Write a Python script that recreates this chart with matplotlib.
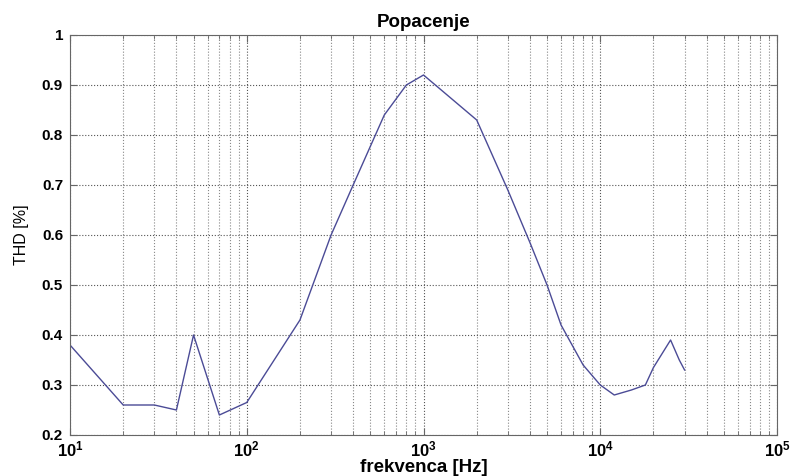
import numpy as np
import matplotlib
matplotlib.use("Agg")
import matplotlib.pyplot as plt
from matplotlib import ticker

# frequency points [Hz] and measured THD [%]
freq = [10, 20, 30, 40, 50, 70, 100, 200, 300, 400, 600, 800, 1000,
        2000, 3000, 4000, 5000, 6000, 8000, 10000, 12000, 15000, 18000,
        20000, 25000, 28000, 30000]
thd = [0.38, 0.26, 0.26, 0.25, 0.40, 0.24, 0.265, 0.43, 0.60, 0.70, 0.84, 0.90, 0.92,
       0.83, 0.69, 0.585, 0.50, 0.42, 0.34, 0.30, 0.28, 0.29, 0.30,
       0.335, 0.39, 0.35, 0.33]

yticks = [0.2, 0.3, 0.4, 0.5, 0.6, 0.7, 0.8, 0.9, 1]
ytick_labels = ['0.2', '0.3', '0.4', '0.5', '0.6', '0.7', '0.8', '0.9', '1']

plt.rcParams['font.family'] = ['Liberation Sans', 'DejaVu Sans']

fig = plt.figure(figsize=(7.93, 4.76), dpi=100)
ax = fig.add_axes([70/793, 41/476, 707/793, 400/476])

ax.plot(freq, thd, color='#4b4b96', linewidth=1.0)

ax.set_xscale('log')
ax.set_xlim(10, 1e5)
ax.set_ylim(0.2, 1)
ax.set_yticks(yticks)
ax.set_yticklabels(ytick_labels)
ax.xaxis.set_major_locator(ticker.LogLocator(base=10, numticks=10))
ax.xaxis.set_minor_locator(ticker.LogLocator(base=10, subs=np.arange(2, 10), numticks=20))
ax.xaxis.set_minor_formatter(ticker.NullFormatter())

# matlab style dotted grid
ax.grid(True, which='major', linestyle=':', color='#555555', linewidth=0.8)
ax.grid(True, which='minor', axis='x', linestyle=':', color='#888888', linewidth=0.8)

for s in ax.spines.values():
    s.set_color('#666666')
ax.tick_params(which='both', direction='in', top=True, right=True, colors='#666666',
               labelcolor='black', labelsize=11)
ax.tick_params(which='major', length=5)
ax.tick_params(which='minor', length=3)
ax.tick_params(axis='x', labelsize=12, pad=3)
ax.tick_params(axis='y', pad=5)
for lab in ax.get_xticklabels() + ax.get_yticklabels():
    lab.set_fontweight('bold')

ax.set_title('Popacenje', fontsize=13.5, fontweight='bold', pad=6)
ax.set_xlabel('frekvenca [Hz]', fontsize=13.5, fontweight='bold', labelpad=0)
ax.set_ylabel('THD [%]', fontsize=11.5, labelpad=9)

plt.savefig('out.png', dpi=100)
